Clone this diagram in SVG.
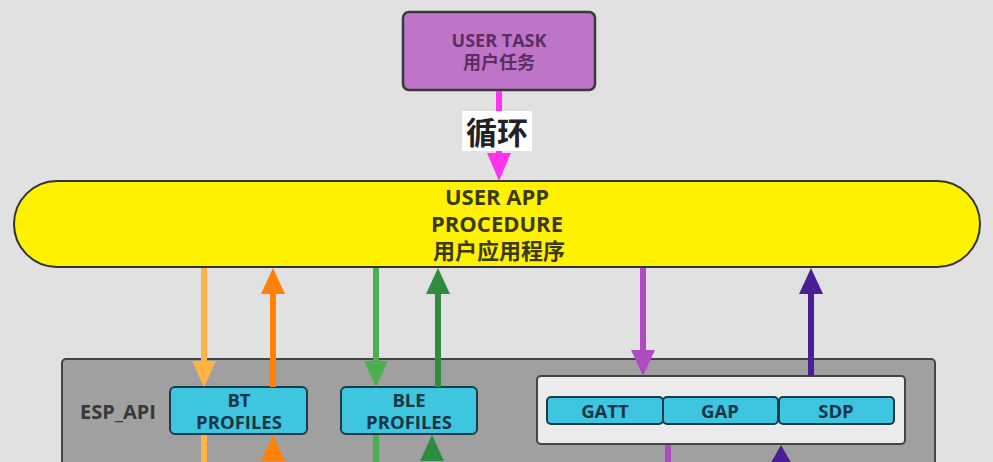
<svg xmlns="http://www.w3.org/2000/svg" width="993" height="462" viewBox="0 0 993 462">
<style>
text{font-family:"Open Sans","Noto Sans CJK SC",sans-serif;font-weight:bold;text-anchor:middle}
.task{fill:#5b2d63;font-size:18px}
.app{fill:#3c3a14;font-size:22px}
.prof{fill:#173645;font-size:18.5px}
.lbl{fill:#383838;font-size:20px}
.ln{stroke-width:6;fill:none}
</style>
<rect width="993" height="462" fill="#e1e1e1"/>

<g id="user_task">
<rect x="403" y="12" width="192" height="78" rx="6" fill="#bf75c7" stroke="#3a3a3a" stroke-width="2.5"/>
<text class="task" x="499" y="47">USER TASK</text>
<text class="task" x="499" y="69">用户任务</text>
</g>

<g id="user_app">
<rect x="14" y="181" width="966" height="86" rx="43" fill="#fff200" stroke="#333" stroke-width="2"/>
<text class="app" x="497" y="205">USER APP</text>
<text class="app" x="497" y="232">PROCEDURE</text>
<text class="app" x="499" y="259">用户应用程序</text>
</g>

<g id="esp_api">
<rect x="62" y="359" width="873" height="110" rx="4" fill="#a0a0a0" stroke="#444" stroke-width="2"/>
<text class="lbl" x="118" y="419">ESP_API</text>
</g>

<g id="bt_profiles">
<rect x="170" y="387" width="137" height="47" rx="5" fill="#3ec5df" stroke="#1c3b48" stroke-width="2"/>
<text class="prof" x="239" y="407">BT</text>
<text class="prof" x="239" y="429">PROFILES</text>
</g>

<g id="ble_profiles">
<rect x="341" y="387" width="136" height="47" rx="5" fill="#3ec5df" stroke="#1c3b48" stroke-width="2"/>
<text class="prof" x="409" y="407">BLE</text>
<text class="prof" x="409" y="429">PROFILES</text>
</g>

<g id="stack_panel">
<rect x="537" y="376" width="368" height="68" rx="4" fill="#ececec" stroke="#444" stroke-width="2"/>
</g>
<g id="gatt">
<rect x="547" y="397" width="116" height="27" rx="4" fill="#3ec5df" stroke="#1c3b48" stroke-width="2"/>
<text class="prof" x="605" y="418">GATT</text>
</g>
<g id="gap">
<rect x="663" y="397" width="115" height="27" rx="4" fill="#3ec5df" stroke="#1c3b48" stroke-width="2"/>
<text class="prof" x="720" y="418">GAP</text>
</g>
<g id="sdp">
<rect x="779" y="397" width="115" height="27" rx="4" fill="#3ec5df" stroke="#1c3b48" stroke-width="2"/>
<text class="prof" x="836" y="418">SDP</text>
</g>

<g id="connectors">
<!-- loop -->
<line x1="499" y1="91" x2="499" y2="158" stroke="#ff33ee" class="ln"/>
<path d="M487,153 L511,153 L499,181 Z" fill="#ff33ee"/>
<rect x="462" y="111" width="70" height="40" fill="#ffffff"/>
<text x="497" y="144" style="font-family:'Noto Sans CJK SC',sans-serif;font-size:31px;fill:#222">循环</text>

<!-- BT -->
<line x1="204" y1="268" x2="204" y2="365" stroke="#ffb347" class="ln"/>
<path d="M192,361 L216,361 L204,387 Z" fill="#ffb347"/>
<line x1="273" y1="290" x2="273" y2="387" stroke="#ff8208" class="ln"/>
<path d="M261,294 L285,294 L273,268 Z" fill="#ff8208"/>
<line x1="204" y1="435" x2="204" y2="462" stroke="#ffb347" class="ln"/>
<path d="M261,461 L285,461 L273,435 Z" fill="#ff8208"/>

<!-- BLE -->
<line x1="376" y1="268" x2="376" y2="365" stroke="#4caf50" class="ln"/>
<path d="M364,361 L388,361 L376,387 Z" fill="#4caf50"/>
<line x1="438" y1="290" x2="438" y2="387" stroke="#2e8b3f" class="ln"/>
<path d="M426,294 L450,294 L438,268 Z" fill="#2e8b3f"/>
<line x1="376" y1="435" x2="376" y2="462" stroke="#4caf50" class="ln"/>
<path d="M420,461 L444,461 L432,435 Z" fill="#2e8b3f"/>

<!-- GATT/SDP -->
<line x1="643" y1="268" x2="643" y2="355" stroke="#b04ac2" class="ln"/>
<path d="M631,350 L655,350 L643,376 Z" fill="#b04ac2"/>
<line x1="811" y1="290" x2="811" y2="376" stroke="#4a1f96" class="ln"/>
<path d="M799,294 L823,294 L811,268 Z" fill="#4a1f96"/>
<line x1="668" y1="445" x2="668" y2="462" stroke="#b04ac2" class="ln"/>
<path d="M769,466 L793,466 L781,445 Z" fill="#4a1f96"/>
</g>
</svg>
